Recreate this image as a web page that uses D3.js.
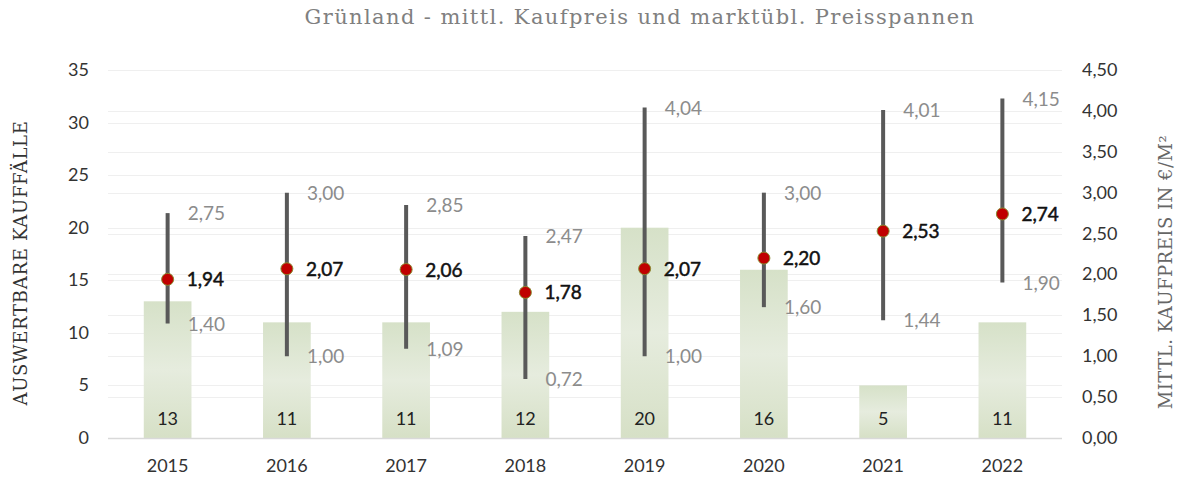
<!DOCTYPE html>
<html>
<head>
<meta charset="utf-8">
<title>Grünland - mittl. Kaufpreis und marktübl. Preisspannen</title>
<script src="https://d3js.org/d3.v7.min.js"></script>
<style>
  body { margin: 0; background: #fff; }
  svg text { font-family: Lato, "Open Sans", sans-serif; }
  .slab { font-family: "DejaVu Serif", serif; }
</style>
</head>
<body>
<svg id="chart" width="1185" height="477"></svg>
<script>
// data
var years  = ["2015", "2016", "2017", "2018", "2019", "2020", "2021", "2022"];
var counts = [13, 11, 11, 12, 20, 16, 5, 11];
var meanPrice = [1.94, 2.07, 2.06, 1.78, 2.07, 2.20, 2.53, 2.74];
var minPrice  = [1.40, 1.00, 1.09, 0.72, 1.00, 1.60, 1.44, 1.90];
var maxPrice  = [2.75, 3.00, 2.85, 2.47, 4.04, 3.00, 4.01, 4.15];
var leftTicks  = [0, 5, 10, 15, 20, 25, 30, 35];
var rightTicks = [0, 0.5, 1, 1.5, 2, 2.5, 3, 3.5, 4, 4.5];

var svg = d3.select("#chart");
var plotLeft = 108, plotRight = 1062, plotTop = 70, plotBottom = 438;

var x = d3.scaleBand().domain(years).range([plotLeft, plotRight]).paddingInner(0.6).paddingOuter(0.3);
var yL = d3.scaleLinear().domain([0, 35]).range([plotBottom, plotTop]);
var yR = d3.scaleLinear().domain([0, 4.5]).range([plotBottom, plotTop]);
var fmt = function(v) { return d3.format(".2f")(v).replace(".", ","); };
var cx = function(i) { return x(years[i]) + x.bandwidth() / 2; };

// gradient for bars
var grad = svg.append("defs").append("linearGradient")
    .attr("id", "barGrad").attr("x1", 0).attr("y1", 0).attr("x2", 0).attr("y2", 1);
grad.append("stop").attr("offset", "0%").attr("stop-color", "#d6e1c8");
grad.append("stop").attr("offset", "50%").attr("stop-color", "#e6ecde");
grad.append("stop").attr("offset", "100%").attr("stop-color", "#d6e0c6");

// title
svg.append("text").attr("class", "slab")
    .attr("x", 640).attr("y", 24).attr("text-anchor", "middle")
    .attr("fill", "#808080").style("font-size", "21px").style("letter-spacing", "1.4px")
    .text("Grünland - mittl. Kaufpreis und marktübl. Preisspannen");

// gridlines
svg.append("g").selectAll("line").data(rightTicks.slice(1)).enter().append("line")
    .attr("x1", plotLeft).attr("x2", plotRight)
    .attr("y1", function(d) { return Math.round(yR(d)) + 0.5; })
    .attr("y2", function(d) { return Math.round(yR(d)) + 0.5; })
    .attr("stroke", "#efefef").attr("stroke-width", 1);
svg.append("g").selectAll("line").data(leftTicks.slice(1)).enter().append("line")
    .attr("x1", plotLeft).attr("x2", plotRight)
    .attr("y1", function(d) { return Math.round(yL(d)) + 0.5; })
    .attr("y2", function(d) { return Math.round(yL(d)) + 0.5; })
    .attr("stroke", "#efefef").attr("stroke-width", 1);

// bars
svg.append("g").selectAll("rect").data(counts).enter().append("rect")
    .attr("x", function(d, i) { return x(years[i]); })
    .attr("width", x.bandwidth())
    .attr("y", function(d) { return yL(d); })
    .attr("height", function(d) { return yL(0) - yL(d); })
    .attr("fill", "url(#barGrad)");

// baseline
svg.append("line").attr("x1", plotLeft).attr("x2", plotRight)
    .attr("y1", plotBottom + 0.5).attr("y2", plotBottom + 0.5)
    .attr("stroke", "#d9d9d9").attr("stroke-width", 1.5);

// count labels
svg.append("g").selectAll("text").data(counts).enter().append("text")
    .attr("x", function(d, i) { return cx(i); })
    .attr("y", plotBottom - 13).attr("text-anchor", "middle")
    .attr("fill", "#222").style("font-size", "18px")
    .text(function(d) { return d; });

// range lines
svg.append("g").selectAll("line").data(years).enter().append("line")
    .attr("x1", function(d, i) { return cx(i); })
    .attr("x2", function(d, i) { return cx(i); })
    .attr("y1", function(d, i) { return yR(maxPrice[i]); })
    .attr("y2", function(d, i) { return yR(minPrice[i]); })
    .attr("stroke", "#595959").attr("stroke-width", 4);

// max / min labels
svg.append("g").selectAll("text").data(maxPrice).enter().append("text")
    .attr("x", function(d, i) { return cx(i) + 20; })
    .attr("y", function(d) { return yR(d) + 7; })
    .attr("fill", "#8c8c8c").style("font-size", "19px")
    .text(fmt);
svg.append("g").selectAll("text").data(minPrice).enter().append("text")
    .attr("x", function(d, i) { return cx(i) + 20; })
    .attr("y", function(d) { return yR(d) + 7; })
    .attr("fill", "#8c8c8c").style("font-size", "19px")
    .text(fmt);

// mean markers
svg.append("g").selectAll("circle").data(meanPrice).enter().append("circle")
    .attr("cx", function(d, i) { return cx(i); })
    .attr("cy", function(d) { return yR(d); })
    .attr("r", 6)
    .attr("fill", "#c00000").attr("stroke", "#8a8a30").attr("stroke-width", 1);
svg.append("g").selectAll("text").data(meanPrice).enter().append("text")
    .attr("x", function(d, i) { return cx(i) + 19; })
    .attr("y", function(d) { return yR(d) + 7; })
    .attr("fill", "#111").attr("stroke", "#111").attr("stroke-width", 0.5)
    .style("font-size", "19px")
    .text(fmt);

// left axis labels
svg.append("g").selectAll("text").data(leftTicks).enter().append("text")
    .attr("x", 89).attr("y", function(d) { return yL(d) + 6; })
    .attr("text-anchor", "end").attr("fill", "#333").style("font-size", "18px")
    .text(function(d) { return d; });

// right axis labels
svg.append("g").selectAll("text").data(rightTicks).enter().append("text")
    .attr("x", 1082).attr("y", function(d) { return yR(d) + 6; })
    .attr("fill", "#333").style("font-size", "18px")
    .text(fmt);

// x axis labels
svg.append("g").selectAll("text").data(years).enter().append("text")
    .attr("x", function(d, i) { return cx(i); })
    .attr("y", 472).attr("text-anchor", "middle")
    .attr("fill", "#333").style("font-size", "18px")
    .text(function(d) { return d; });

// axis titles
svg.append("text").attr("class", "slab")
    .attr("transform", "translate(27,263) rotate(-90)")
    .attr("text-anchor", "middle").attr("fill", "#333")
    .style("font-size", "18px").style("letter-spacing", "0.7px")
    .text("AUSWERTBARE KAUFFÄLLE");
svg.append("text").attr("class", "slab")
    .attr("transform", "translate(1172,272) rotate(-90)")
    .attr("text-anchor", "middle").attr("fill", "#666")
    .style("font-size", "18px").style("letter-spacing", "0.5px")
    .text("MITTL. KAUFPREIS IN €/M²");
</script>
</body>
</html>
